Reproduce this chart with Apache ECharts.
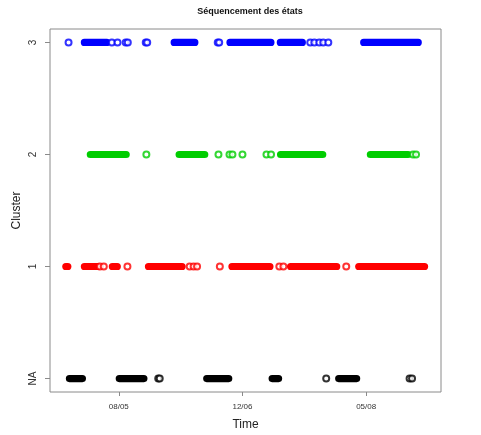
<!DOCTYPE html>
<html>
<head>
<meta charset="utf-8">
<script src="https://cdn.jsdelivr.net/npm/echarts@6/dist/echarts.min.js"></script>
<style>
html,body{margin:0;padding:0;background:#fff;}
#c{width:481px;height:435px;}
</style>
</head>
<body>
<div id="c"></div>
<script>
// Time values (arbitrary time units; tick 08/05 = 100, 12/06 = 200, 05/08 = 300)
const xTickValues = [100, 200, 300];
const xTickLabels = ['08/05', '12/06', '05/08'];
const yTickValues = [0, 1, 2, 3];
const yTickLabels = ['NA', '1', '2', '3'];

// State 3 (blue)
const runs3 = [[72.2, 90.3], [144.8, 161.5], [189.9, 223.0], [230.6, 248.4], [298.0, 342.1]];
const points3 = [59.4, 94.4, 99.0, 105.6, 107.3, 121.8, 123.0, 180.0, 181.2, 254.8, 258.1, 262.1, 265.3, 269.4];
// State 2 (green)
const runs2 = [[77.0, 106.0], [148.8, 169.5], [230.8, 264.9], [303.4, 333.9]];
const points2 = [122.3, 180.6, 189.5, 191.9, 200.0, 219.4, 223.1, 337.9, 340.3];
// State 1 (red)
const runs1 = [[57.2, 58.8], [72.2, 82.7], [94.8, 98.8], [124.0, 151.2], [191.5, 222.2], [238.9, 276.2], [294.0, 347.2]];
const points1 = [84.7, 87.9, 107.0, 157.3, 160.5, 163.3, 181.7, 229.8, 233.1, 283.9];
// State NA (black)
const runs0 = [[60.1, 70.6], [100.4, 120.3], [171.1, 188.9], [224.0, 229.2], [277.8, 292.3]];
const points0 = [131.9, 133.1, 267.7, 335.1, 337.1];

const states = [
  {level: 0, color: '#000000', runs: runs0, points: points0},
  {level: 1, color: '#FF0000', runs: runs1, points: points1},
  {level: 2, color: '#00CD00', runs: runs2, points: points2},
  {level: 3, color: '#0000FF', runs: runs3, points: points3}
];

const BAR_H = 7.2;
const FONT = '"Liberation Sans", Arial, sans-serif';

const series = [];
states.forEach(function (s) {
  series.push({
    type: 'custom',
    data: s.runs.map(function (r) { return [r[0], r[1], s.level]; }),
    encode: {x: [0, 1], y: 2},
    renderItem: function (params, api) {
      const p1 = api.coord([api.value(0), api.value(2)]);
      const p2 = api.coord([api.value(1), api.value(2)]);
      return {
        type: 'rect',
        shape: {x: p1[0] - BAR_H / 2, y: p1[1] - BAR_H / 2, width: p2[0] - p1[0] + BAR_H, height: BAR_H, r: BAR_H / 2},
        style: {fill: s.color}
      };
    },
    silent: true,
    animation: false
  });
  series.push({
    type: 'scatter',
    data: s.points.map(function (t) { return [t, s.level]; }),
    symbol: 'emptyCircle',
    symbolSize: 6,
    itemStyle: {color: s.color, borderColor: s.color, borderWidth: 1.2},
    silent: true,
    animation: false
  });
});

const chart = echarts.init(document.getElementById('c'), null, {renderer: 'canvas'});
chart.setOption({
  backgroundColor: '#ffffff',
  animation: false,
  title: {
    text: 'Séquencement des états',
    left: 245,
    top: 2,
    textAlign: 'center',
    textStyle: {fontFamily: FONT, fontSize: 9, fontWeight: 'bold', color: '#111'}
  },
  grid: {left: 50, right: 40, top: 29, bottom: 43, containLabel: false, outerBoundsMode: 'none', show: true, borderColor: '#8a8a8a', borderWidth: 1, backgroundColor: 'transparent'},
  xAxis: {
    type: 'value',
    min: 44.4,
    max: 360.5,
    name: 'Time',
    nameLocation: 'middle',
    nameGap: 27,
    nameMoveOverlap: false,
    nameTextStyle: {fontFamily: FONT, fontSize: 12, color: '#222'},
    axisLine: {show: false, onZero: false},
    splitLine: {show: false},
    axisTick: {show: true, length: 4, customValues: xTickValues, lineStyle: {color: '#8a8a8a'}},
    axisLabel: {
      customValues: xTickValues,
      margin: 11,
      fontFamily: FONT, fontSize: 8, color: '#333',
      formatter: function (v) { const i = xTickValues.indexOf(v); return i >= 0 ? xTickLabels[i] : ''; }
    }
  },
  yAxis: {
    type: 'value',
    min: -0.12,
    max: 3.12,
    name: 'Cluster',
    nameLocation: 'middle',
    nameGap: 27,
    nameMoveOverlap: false,
    nameTextStyle: {fontFamily: FONT, fontSize: 12, color: '#222'},
    axisLine: {show: false, onZero: false},
    splitLine: {show: false},
    axisTick: {show: true, length: 5, customValues: yTickValues, lineStyle: {color: '#8a8a8a'}},
    axisLabel: {
      customValues: yTickValues,
      rotate: 90,
      margin: 12,
      fontFamily: FONT, fontSize: 10, color: '#333',
      formatter: function (v) { const i = yTickValues.indexOf(v); return i >= 0 ? yTickLabels[i] : ''; }
    }
  },
  series: series
});
</script>
</body>
</html>
